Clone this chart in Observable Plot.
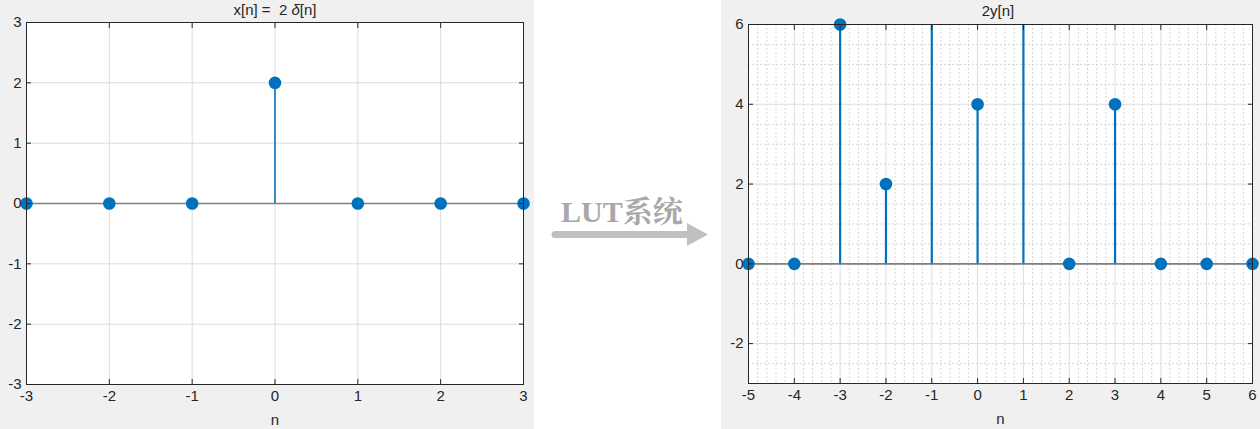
<!DOCTYPE html>
<html>
<head>
<meta charset="utf-8">
<script src="https://cdn.jsdelivr.net/npm/d3@7"></script>
<script src="https://cdn.jsdelivr.net/npm/@observablehq/plot@0.6"></script>
<style>
  html, body { margin: 0; padding: 0; background: #ffffff; width: 1260px; height: 429px; overflow: hidden; }
  .panel { position: absolute; top: 0; }
  .title { position: absolute; font-family: "Liberation Sans", Arial, sans-serif; font-size: 15px; line-height: 18px; color: #262626; white-space: pre; transform: translateX(-50%); }
  .lut { position: absolute; font-family: "Liberation Serif", "Noto Serif CJK SC", serif; font-weight: bold; font-size: 30px; line-height: 36px; color: #a8a8a8; white-space: nowrap; }
</style>
</head>
<body>
<div id="left" class="panel" style="left:0px"></div>
<div id="right" class="panel" style="left:721px"></div>
<div class="title" style="left:275px; top:1px">x[n] =  2 <i>δ</i>[n]</div>
<div class="title" style="left:998px; top:2px">2y[n]</div>
<div class="lut" style="left:561px; top:194px">LUT系统</div>
<svg style="position:absolute; left:545px; top:218px" width="170" height="34">
  <line x1="10" y1="16.5" x2="144" y2="16.5" stroke="#c0c0c0" stroke-width="7" stroke-linecap="round"/>
  <polygon points="142,5 142,28 163,16.5" fill="#c0c0c0"/>
</svg>
<script>
// ---- data ----
const nLeft = [-3, -2, -1, 0, 1, 2, 3];
const xValues = [0, 0, 0, 2, 0, 0, 0];
const leftXTicks = [-3, -2, -1, 0, 1, 2, 3];
const leftYTicks = [-3, -2, -1, 0, 1, 2, 3];

const nRight = [-5, -4, -3, -2, -1, 0, 1, 2, 3, 4, 5, 6];
const yValues = [0, 0, 6, 2, 8, 4, 8, 0, 4, 0, 0, 0]; // n=-1 and n=1 run off the top of the axes
const rightXTicks = [-5, -4, -3, -2, -1, 0, 1, 2, 3, 4, 5, 6];
const rightYTicks = [-2, 0, 2, 4, 6];

const stemColor = "#0072BD";
const ink = "#262626";
const FS = 15;

const leftData = nLeft.map((n, i) => ({n, v: xValues[i]}));
const rightData = nRight.map((n, i) => ({n, v: yValues[i]}));

function stemPlot({data, width, xDomain, yDomain, xTicks, yTicks, margins, minor, stemWidth}) {
  const marks = [
    Plot.frame({fill: "white", stroke: null}),
  ];
  if (minor) {
    marks.push(
      Plot.gridX(d3.range(xDomain[0], xDomain[1] + 1e-9, 0.2).filter(d => Math.abs(d - Math.round(d)) > 1e-6), {stroke: "#d6d6d6", strokeOpacity: 1, strokeDasharray: "2,2"}),
      Plot.gridY(d3.range(yDomain[0], yDomain[1] + 1e-9, 0.5).filter(d => !yTicks.some(t => Math.abs(t - d) < 1e-6)), {stroke: "#d6d6d6", strokeOpacity: 1, strokeDasharray: "2,2"})
    );
  }
  marks.push(
    Plot.gridX(xTicks, {stroke: "#dcdcdc", strokeOpacity: 1}),
    Plot.gridY(yTicks, {stroke: "#dcdcdc", strokeOpacity: 1}),
    Plot.ruleY([0], {stroke: "#7f7f7f", strokeWidth: 1.6}),
    Plot.ruleX(data, {x: "n", y1: 0, y2: "v", stroke: stemColor, strokeWidth: stemWidth, clip: true}),
    Plot.dot(data.filter(d => d.v <= yDomain[1]), {x: "n", y: "v", r: 6.3, fill: stemColor, stroke: null}),
    Plot.frame({stroke: ink, strokeWidth: 1}),
    // inward ticks on all four sides
    Plot.axisX(xTicks, {anchor: "bottom", tickSize: -5, fill: "none", label: null, stroke: ink}),
    Plot.axisX(xTicks, {anchor: "top", tickSize: -5, fill: "none", label: null, stroke: ink}),
    Plot.axisY(yTicks, {anchor: "left", tickSize: -5, fill: "none", label: null, stroke: ink}),
    Plot.axisY(yTicks, {anchor: "right", tickSize: -5, fill: "none", label: null, stroke: ink}),
    // tick labels
    Plot.axisX(xTicks, {anchor: "bottom", tickSize: 0, tickPadding: 6, label: null, tickFormat: d => String(d).replace("−", "-"), fill: ink, fontSize: FS}),
    Plot.axisY(yTicks, {anchor: "left", tickSize: 0, tickPadding: 5, label: null, tickFormat: d => String(d).replace("−", "-"), fill: ink, fontSize: FS}),
    Plot.text(["n"], {frameAnchor: "bottom", dy: 40, fill: ink, fontSize: FS})
  );
  return Plot.plot({
    width,
    height: 429,
    ...margins,
    style: {background: "#f0f0f0", fontFamily: "'Liberation Sans', Arial, sans-serif", fontSize: FS + "px", color: ink, overflow: "visible"},
    x: {domain: xDomain, nice: false, axis: null},
    y: {domain: yDomain, nice: false, axis: null},
    marks
  });
}

document.getElementById("left").append(stemPlot({
  data: leftData, width: 534, xDomain: [-3, 3], yDomain: [-3, 3],
  xTicks: leftXTicks, yTicks: leftYTicks,
  margins: {marginLeft: 26, marginRight: 11, marginTop: 22, marginBottom: 45},
  minor: false, stemWidth: 1.6
}));

document.getElementById("right").append(stemPlot({
  data: rightData, width: 539, xDomain: [-5, 6], yDomain: [-3, 6],
  xTicks: rightXTicks, yTicks: rightYTicks,
  margins: {marginLeft: 27, marginRight: 8, marginTop: 24, marginBottom: 46},
  minor: true, stemWidth: 2.2
}));
</script>
</body>
</html>
